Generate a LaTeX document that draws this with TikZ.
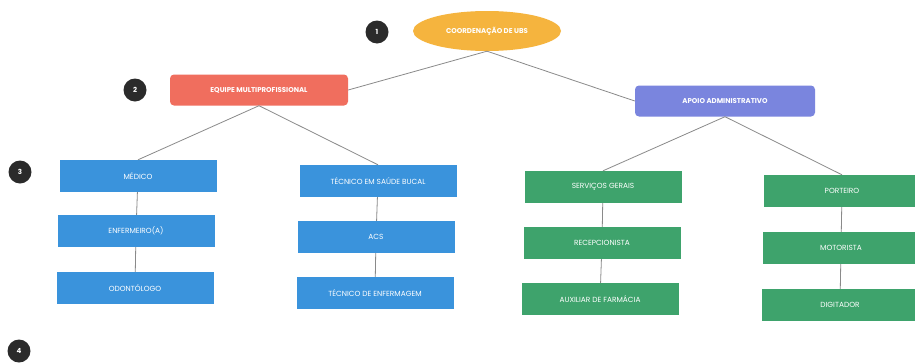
\documentclass[tikz,border=0pt]{standalone}
\usepackage{fontspec}
\setmainfont{Poppins}
\usetikzlibrary{shapes.geometric}
\definecolor{cOrange}{HTML}{F5B43E}
\definecolor{cRed}{HTML}{F06E5E}
\definecolor{cViolet}{HTML}{7A85DE}
\definecolor{cBlue}{HTML}{3A93DC}
\definecolor{cGreen}{HTML}{3EA36C}
\definecolor{cMark}{HTML}{2B2B2B}
\definecolor{cLine}{HTML}{8A8A8A}
\tikzset{
  lbl/.style={text=white, font=\fontsize{7.4}{8}\selectfont},
  leaf/.style={lbl, rectangle, minimum width=157pt, minimum height=32pt, inner sep=0pt},
  bluebox/.style={leaf, fill=cBlue},
  greenbox/.style={leaf, fill=cGreen},
  head/.style={lbl, font=\fontsize{7}{8}\selectfont\bfseries, rectangle, rounded corners=4pt, minimum height=31pt, inner sep=0pt},
  marker/.style={circle, fill=cMark, text=white, minimum size=23pt, inner sep=0pt, font=\fontsize{7}{8}\selectfont\bfseries},
  link/.style={draw=cLine, line width=0.8pt}
}
\begin{document}
\begin{tikzpicture}[x=1pt,y=-1pt]
\useasboundingbox (0,0) rectangle (915,362);
\fill[white] (0,0) rectangle (915,362);
% markers
\node[marker] (m1) at (377,32) {1};
\node[marker] (m2) at (135,90) {2};
\node[marker] (m3) at (20,172) {3};
\node[marker] (m4) at (19,351) {4};
% top
\node[ellipse, fill=cOrange, lbl, font=\fontsize{7}{8}\selectfont\bfseries, minimum width=148pt, minimum height=40pt, inner sep=0pt] (root) at (487,31) {COORDENAÇÃO DE UBS};
\node[head, fill=cRed, minimum width=178pt] (eq) at (259,90) {EQUIPE MULTIPROFISSIONAL};
\node[head, fill=cViolet, minimum width=180pt] (ap) at (725,101) {APOIO ADMINISTRATIVO};
% leaves
\node[bluebox] (med) at (138,176) {MÉDICO};
\node[bluebox] (enf) at (136,231) {ENFERMEIRO(A)};
\node[bluebox] (odo) at (135,288) {ODONTÓLOGO};
\node[bluebox] (tsb) at (378,181) {TÉCNICO EM SAÚDE BUCAL};
\node[bluebox] (acs) at (376,237) {ACS};
\node[bluebox] (ten) at (375,293) {TÉCNICO DE ENFERMAGEM};
\node[greenbox] (sg) at (603,187) {SERVIÇOS GERAIS};
\node[greenbox] (rec) at (602,243) {RECEPCIONISTA};
\node[greenbox] (aux) at (600,299) {AUXILIAR DE FARMÁCIA};
\node[greenbox] (por) at (842,191) {PORTEIRO};
\node[greenbox] (mot) at (841,248) {MOTORISTA};
\node[greenbox] (dig) at (840,305) {DIGITADOR};
% connectors
\begin{scope}[on background layer/.style={}]
\draw[link] (root.south) -- (eq.east);
\draw[link] (root.south) -- (ap.west);
\draw[link] (eq.south) -- (med.north);
\draw[link] (eq.south) -- (tsb.north);
\draw[link] (ap.south) -- (sg.north);
\draw[link] (ap.south) -- (por.north);
\draw[link] (med) -- (enf);
\draw[link] (enf) -- (odo);
\draw[link] (tsb) -- (acs);
\draw[link] (acs) -- (ten);
\draw[link] (sg) -- (rec);
\draw[link] (rec) -- (aux);
\draw[link] (por) -- (mot);
\draw[link] (mot) -- (dig);
\end{scope}
\end{tikzpicture}
\end{document}
